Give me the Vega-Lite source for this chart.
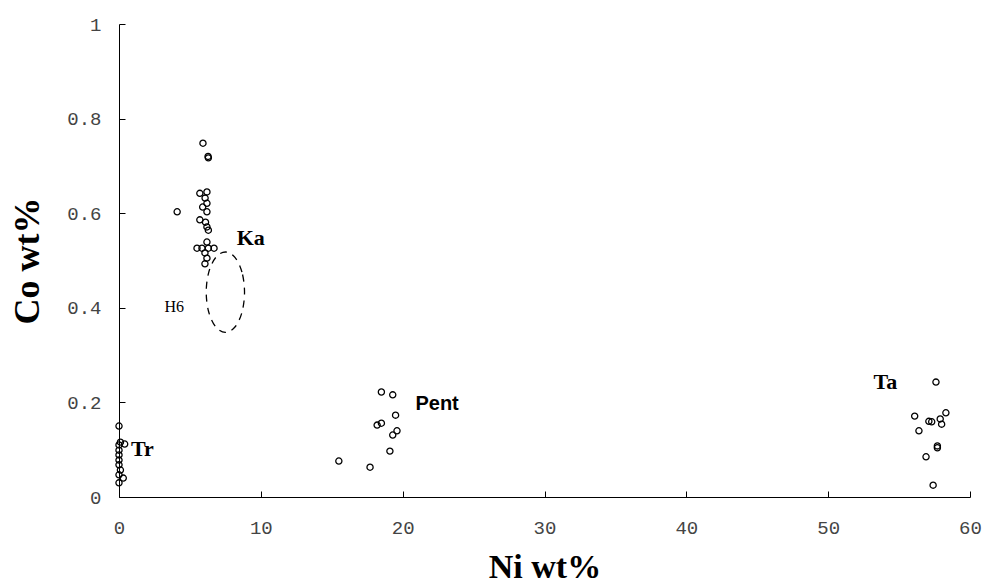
{
  "$schema": "https://vega.github.io/schema/vega-lite/v6.json",
  "autosize": {"type": "none"},
  "padding": {"left": 119, "top": 24, "right": 19, "bottom": 88},
  "width": 851,
  "height": 473,
  "background": "white",
  "config": {"view": {"stroke": null}},
  "datasets": {
    "pts": [
      {"group": "Tr", "ni": 0.0, "co": 0.150},
      {"group": "Tr", "ni": 0.1, "co": 0.116},
      {"group": "Tr", "ni": 0.4, "co": 0.112},
      {"group": "Tr", "ni": 0.0, "co": 0.110},
      {"group": "Tr", "ni": 0.0, "co": 0.099},
      {"group": "Tr", "ni": 0.0, "co": 0.089},
      {"group": "Tr", "ni": 0.0, "co": 0.078},
      {"group": "Tr", "ni": 0.0, "co": 0.068},
      {"group": "Tr", "ni": 0.1, "co": 0.057},
      {"group": "Tr", "ni": 0.0, "co": 0.047},
      {"group": "Tr", "ni": 0.3, "co": 0.040},
      {"group": "Tr", "ni": 0.0, "co": 0.030},
      {"group": "Ka", "ni": 5.92, "co": 0.748},
      {"group": "Ka", "ni": 6.28, "co": 0.720},
      {"group": "Ka", "ni": 6.3, "co": 0.717},
      {"group": "Ka", "ni": 6.2, "co": 0.645},
      {"group": "Ka", "ni": 5.7, "co": 0.642},
      {"group": "Ka", "ni": 6.07, "co": 0.632},
      {"group": "Ka", "ni": 6.2, "co": 0.621},
      {"group": "Ka", "ni": 5.9, "co": 0.613},
      {"group": "Ka", "ni": 6.2, "co": 0.603},
      {"group": "Ka", "ni": 4.1, "co": 0.603},
      {"group": "Ka", "ni": 5.7, "co": 0.586},
      {"group": "Ka", "ni": 6.1, "co": 0.581},
      {"group": "Ka", "ni": 6.2, "co": 0.571},
      {"group": "Ka", "ni": 6.3, "co": 0.564},
      {"group": "Ka", "ni": 6.2, "co": 0.539},
      {"group": "Ka", "ni": 5.5, "co": 0.526},
      {"group": "Ka", "ni": 5.85, "co": 0.526},
      {"group": "Ka", "ni": 6.3, "co": 0.526},
      {"group": "Ka", "ni": 6.7, "co": 0.526},
      {"group": "Ka", "ni": 6.06, "co": 0.516},
      {"group": "Ka", "ni": 6.2, "co": 0.505},
      {"group": "Ka", "ni": 6.06, "co": 0.493},
      {"group": "Pent", "ni": 18.5, "co": 0.222},
      {"group": "Pent", "ni": 19.3, "co": 0.216},
      {"group": "Pent", "ni": 19.5, "co": 0.173},
      {"group": "Pent", "ni": 18.5, "co": 0.156},
      {"group": "Pent", "ni": 18.2, "co": 0.152},
      {"group": "Pent", "ni": 19.6, "co": 0.140},
      {"group": "Pent", "ni": 19.3, "co": 0.131},
      {"group": "Pent", "ni": 19.1, "co": 0.097},
      {"group": "Pent", "ni": 15.5, "co": 0.076},
      {"group": "Pent", "ni": 17.7, "co": 0.063},
      {"group": "Ta", "ni": 57.6, "co": 0.243},
      {"group": "Ta", "ni": 56.1, "co": 0.171},
      {"group": "Ta", "ni": 58.3, "co": 0.178},
      {"group": "Ta", "ni": 57.9, "co": 0.165},
      {"group": "Ta", "ni": 57.3, "co": 0.159},
      {"group": "Ta", "ni": 57.1, "co": 0.160},
      {"group": "Ta", "ni": 58.0, "co": 0.154},
      {"group": "Ta", "ni": 56.4, "co": 0.140},
      {"group": "Ta", "ni": 57.7, "co": 0.108},
      {"group": "Ta", "ni": 57.7, "co": 0.104},
      {"group": "Ta", "ni": 56.9, "co": 0.085},
      {"group": "Ta", "ni": 57.4, "co": 0.025}
    ],
    "ellipse": [
      {"i": 0, "ni": 8.85, "co": 0.433},
      {"i": 1, "ni": 8.669, "co": 0.4755},
      {"i": 2, "ni": 8.175, "co": 0.5066},
      {"i": 3, "ni": 7.5, "co": 0.518},
      {"i": 4, "ni": 6.825, "co": 0.5066},
      {"i": 5, "ni": 6.331, "co": 0.4755},
      {"i": 6, "ni": 6.15, "co": 0.433},
      {"i": 7, "ni": 6.331, "co": 0.3905},
      {"i": 8, "ni": 6.825, "co": 0.3594},
      {"i": 9, "ni": 7.5, "co": 0.348},
      {"i": 10, "ni": 8.175, "co": 0.3594},
      {"i": 11, "ni": 8.669, "co": 0.3905}
    ],
    "labels": [
      {"kind": "serifbold", "label": "Ka", "ni": 8.3, "co": 0.533},
      {"kind": "serifbold", "label": "Tr", "ni": 0.85, "co": 0.087},
      {"kind": "serifbold", "label": "Ta", "ni": 53.2, "co": 0.228},
      {"kind": "sansbold", "label": "Pent", "ni": 20.9, "co": 0.184},
      {"kind": "serif", "label": "H6", "ni": 3.2, "co": 0.391}
    ]
  },
  "layer": [
    {
      "data": {"name": "pts"},
      "mark": {"type": "point", "shape": "circle", "filled": false, "color": "black", "strokeWidth": 1.3, "size": 38, "opacity": 1},
      "encoding": {
        "x": {
          "field": "ni", "type": "quantitative",
          "scale": {"domain": [0, 60], "nice": false, "zero": true},
          "axis": {
            "title": "Ni wt%",
            "titleFont": "Liberation Serif", "titleFontSize": 34, "titleFontWeight": "bold", "titleColor": "black",
            "titleBaseline": "alphabetic", "titleY": 80,
            "values": [0, 10, 20, 30, 40, 50, 60],
            "labelFont": "Liberation Mono", "labelFontSize": 19, "labelColor": "#444", "labelPadding": 27,
            "labelFlush": false,
            "grid": false, "domainColor": "black", "domainWidth": 1,
            "tickColor": "black", "tickSize": -6, "tickWidth": 1
          }
        },
        "y": {
          "field": "co", "type": "quantitative",
          "scale": {"domain": [0, 1], "nice": false},
          "axis": {
            "title": "Co wt%",
            "titleFont": "Liberation Serif", "titleFontSize": 36, "titleFontWeight": "bold", "titleColor": "black",
            "titleX": -92, "titleBaseline": "middle",
            "values": [0, 0.2, 0.4, 0.6, 0.8, 1],
            "labelExpr": "datum.value == 0 ? '0' : datum.value == 1 ? '1' : format(datum.value, '.1f')",
            "labelFont": "Liberation Mono", "labelFontSize": 19, "labelColor": "#444", "labelPadding": 24,
            "labelFlush": false,
            "grid": false, "domainColor": "black", "domainWidth": 1,
            "tickColor": "black", "tickSize": -6, "tickWidth": 1
          }
        }
      }
    },
    {
      "data": {"name": "ellipse"},
      "mark": {"type": "line", "interpolate": "cardinal-closed", "color": "black", "strokeWidth": 1.3, "strokeDash": [7, 6]},
      "encoding": {
        "x": {"field": "ni", "type": "quantitative"},
        "y": {"field": "co", "type": "quantitative"},
        "order": {"field": "i", "type": "quantitative"}
      }
    },
    {
      "data": {"name": "labels"},
      "transform": [{"filter": "datum.kind == 'serifbold'"}],
      "mark": {"type": "text", "font": "Liberation Serif", "fontWeight": "bold", "fontSize": 22, "align": "left", "baseline": "alphabetic", "color": "black"},
      "encoding": {
        "x": {"field": "ni", "type": "quantitative"},
        "y": {"field": "co", "type": "quantitative"},
        "text": {"field": "label"}
      }
    },
    {
      "data": {"name": "labels"},
      "transform": [{"filter": "datum.kind == 'sansbold'"}],
      "mark": {"type": "text", "font": "Liberation Sans", "fontWeight": "bold", "fontSize": 20, "align": "left", "baseline": "alphabetic", "color": "black"},
      "encoding": {
        "x": {"field": "ni", "type": "quantitative"},
        "y": {"field": "co", "type": "quantitative"},
        "text": {"field": "label"}
      }
    },
    {
      "data": {"name": "labels"},
      "transform": [{"filter": "datum.kind == 'serif'"}],
      "mark": {"type": "text", "font": "Liberation Serif", "fontWeight": "normal", "fontSize": 16, "align": "left", "baseline": "alphabetic", "color": "black"},
      "encoding": {
        "x": {"field": "ni", "type": "quantitative"},
        "y": {"field": "co", "type": "quantitative"},
        "text": {"field": "label"}
      }
    }
  ]
}
